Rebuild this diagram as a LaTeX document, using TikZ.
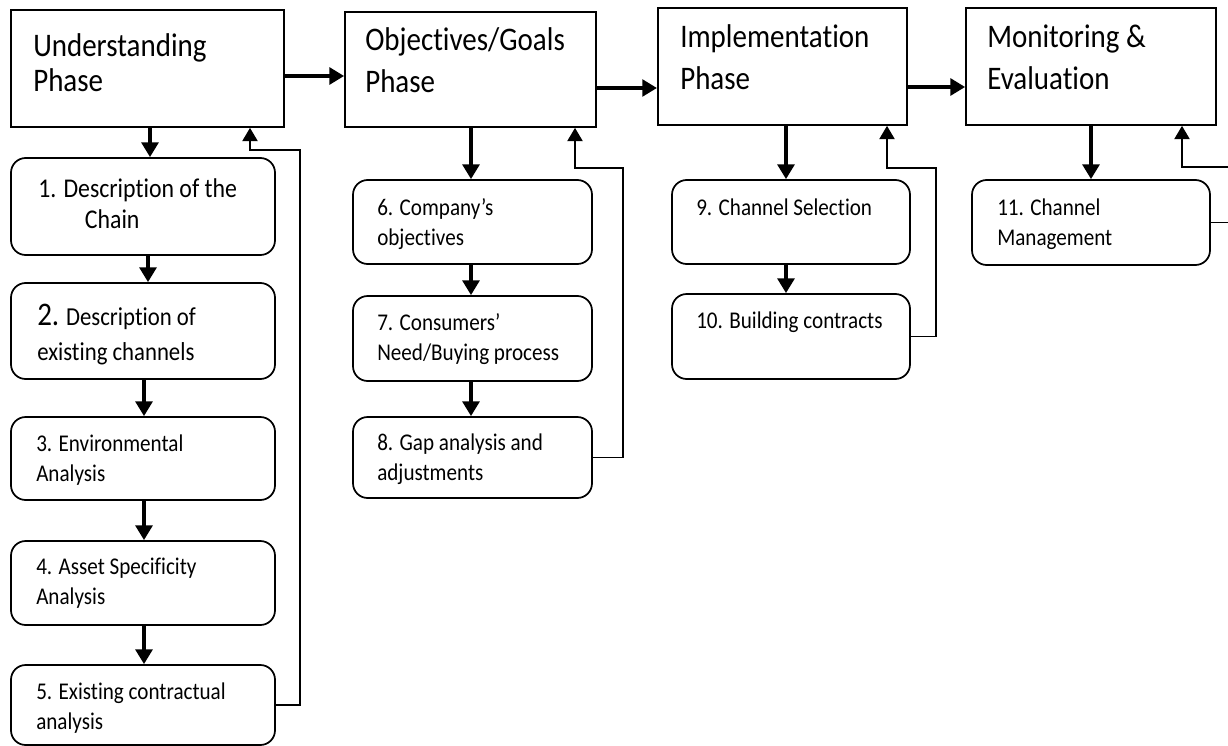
\documentclass[tikz,border=0pt]{standalone}
\usepackage{fontspec}
\setmainfont{Carlito}[FakeStretch=0.88, Ligatures=NoCommon]
\usetikzlibrary{arrows.meta}

\tikzset{
  phase/.style={draw, line width=1.3pt, minimum width=187pt, minimum height=87.75pt, inner sep=0pt},
  stagebox/.style={draw, line width=1.3pt, rounded corners=11pt, minimum width=178.5pt, minimum height=63pt, inner sep=0pt},
  widebox/.style={stagebox, minimum width=198pt},
  midbox/.style={stagebox, minimum width=179.25pt},
  txt/.style={anchor=north west, inner sep=0pt, align=left},
  headtxt/.style={txt, font=\fontsize{24.7}{31.5}\selectfont},
  smalltxt/.style={txt, font=\fontsize{18}{22.5}\selectfont},
  flow/.style={line width=2.6pt, -{Triangle[length=11pt,width=12.5pt]}},
  back/.style={line width=1.1pt, -{Triangle[length=10pt,width=11.5pt]}}
}

\begin{document}
\begin{tikzpicture}[x=0.75pt, y=-0.75pt]
  \useasboundingbox (0,0) rectangle (1228,746);
  \clip (0,0) rectangle (1228,746);

  % phases
  \node[phase, minimum width=204.75pt] (p1) at (147.5,68.5) {};
  \node[phase, minimum width=188.25pt, minimum height=86.25pt] (p2) at (470.5,69.5) {};
  \node[phase] (p3) at (782.5,66.5) {};
  \node[phase, minimum width=187.5pt] (p4) at (1091,66.5) {};

  \node[headtxt, font=\fontsize{24.7}{26.25}\selectfont] (p1t) at (33,31.5) {\strut Understanding\\Phase};
  \node[headtxt] (p2t) at (365,20.6) {\strut Objectives/Goals\\Phase};
  \node[headtxt] (p3t) at (680,17.6) {\strut Implementation\\Phase};
  \node[headtxt] (p4t) at (987,17.6) {\strut Monitoring \&\\Evaluation};

  % steps
  \node[widebox, minimum height=72.75pt] (b1) at (143,206.5) {};
  \node[widebox, minimum height=72pt] (b2) at (143,331) {};
  \node[widebox, minimum height=62.25pt] (b3) at (143,458.5) {};
  \node[widebox] (b4) at (143,583) {};
  \node[widebox, minimum height=60pt] (b5) at (143,705) {};
  \node[midbox] (b6) at (472.5,222) {};
  \node[midbox, minimum height=63.75pt] (b7) at (472.5,338.5) {};
  \node[midbox, minimum height=60.75pt] (b8) at (472.5,457.5) {};
  \node[stagebox] (b9) at (791,222) {};
  \node[stagebox, minimum height=63.75pt] (b10) at (791,336.5) {};
  \node[stagebox, minimum height=63.75pt] (b11) at (1091,222.5) {};

  \node[txt, font=\fontsize{20.3}{23.25}\selectfont] (b1t) at (38,175.3) {\strut 1. Description of the\\\hspace*{35pt}Chain};
  \node[txt, font=\fontsize{19.4}{26.25}\selectfont] (b2t) at (37,300.5) {\strut{\fontsize{24.7}{26.25}\selectfont 2.} Description of\\existing channels};
  \node[smalltxt] (b3t) at (36,430) {\strut 3. Environmental\\Analysis};
  \node[smalltxt] (b4t) at (36,553) {\strut 4. Asset Specificity\\Analysis};
  \node[smalltxt] (b5t) at (36,678) {\strut 5. Existing contractual\\analysis};
  \node[smalltxt] (b6t) at (377,194) {\strut 6. Company’s\\objectives};
  \node[smalltxt] (b7t) at (377,309) {\strut 7. Consumers’\\Need/Buying process};
  \node[smalltxt] (b8t) at (377,429) {\strut 8. Gap analysis and\\adjustments};
  \node[smalltxt] (b9t) at (696,194) {\strut 9. Channel Selection};
  \node[smalltxt] (b10t) at (696,307) {\strut 10. Building contracts};
  \node[smalltxt] (b11t) at (997,194) {\strut 11. Channel\\Management};

  % phase to phase
  \draw[flow] (p1.east |- 0,76) -- (p2.west |- 0,76);
  \draw[flow] (p2.east |- 0,88) -- (p3.west |- 0,88);
  \draw[flow] (p3.east |- 0,87) -- (p4.west |- 0,87);

  % down the columns
  \draw[flow] (p1.south -| 150,0) -- (b1.north -| 150,0);
  \draw[flow] (b1.south -| 148,0) -- (b2.north -| 148,0);
  \draw[flow] (b2.south -| 144,0) -- (b3.north -| 144,0);
  \draw[flow] (b3.south -| 144,0) -- (b4.north -| 144,0);
  \draw[flow] (b4.south -| 144,0) -- (b5.north -| 144,0);
  \draw[flow] (p2.south -| 471,0) -- (b6.north -| 471,0);
  \draw[flow] (b6.south -| 471,0) -- (b7.north -| 471,0);
  \draw[flow] (b7.south -| 471,0) -- (b8.north -| 471,0);
  \draw[flow] (p3.south -| 786,0) -- (b9.north -| 786,0);
  \draw[flow] (b9.south -| 786,0) -- (b10.north -| 786,0);
  \draw[flow] (p4.south -| 1091,0) -- (b11.north -| 1091,0);

  % feedback
  \draw[back] (b5.east) -| (300,150) -| (p1.south -| 250,0);
  \draw[back] (b8.east) -| (623,168) -| (p2.south -| 575,0);
  \draw[back] (b10.east) -| (936,168) -| (p3.south -| 887,0);
  \draw[back] (b11.east) -| (1240,167) -| (p4.south -| 1182,0);
\end{tikzpicture}
\end{document}
